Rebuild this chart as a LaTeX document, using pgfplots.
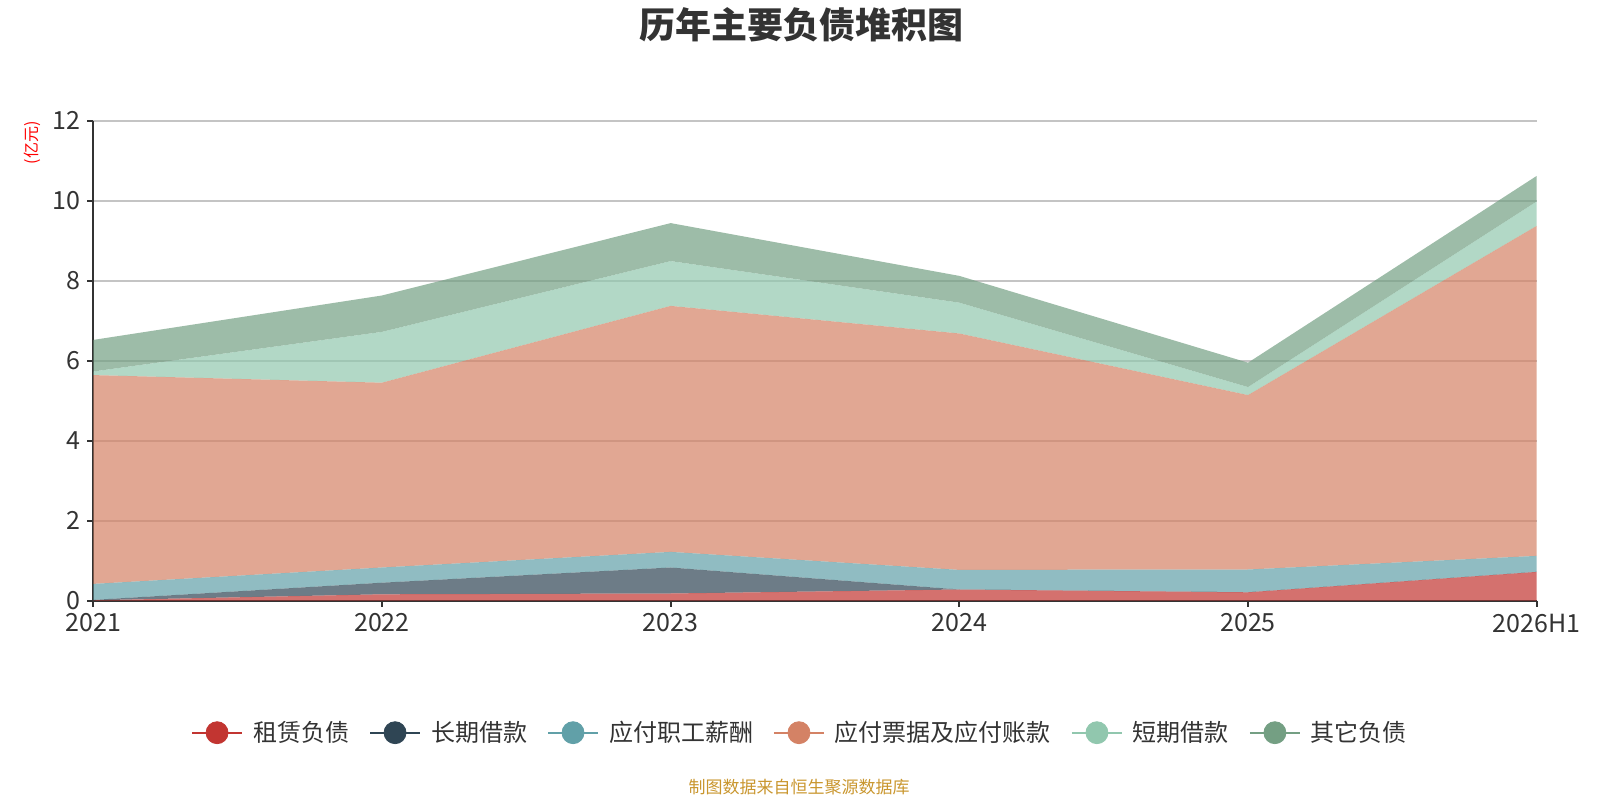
\documentclass[border=0pt]{standalone}
\usepackage{pgfplots}
\pgfplotsset{compat=1.18}
\usepackage{fontspec}
\setmainfont{Noto Sans CJK SC}
\definecolor{c1}{HTML}{C23531}
\definecolor{c2}{HTML}{2F4554}
\definecolor{c3}{HTML}{61A0A8}
\definecolor{c4}{HTML}{D48265}
\definecolor{c5}{HTML}{91C7AE}
\definecolor{c6}{HTML}{749F83}
\definecolor{txt}{HTML}{333333}
\definecolor{gridc}{HTML}{C4C4C4}
\definecolor{foot}{HTML}{C9962E}
\begin{document}
\begin{tikzpicture}
\path[use as bounding box] (0bp,0bp) rectangle (800bp,400bp);
\begin{axis}[
  at={(46.65bp,99.65bp)}, anchor=south west,
  scale only axis, width=721.7bp, height=240bp,
  xmin=0, xmax=5, ymin=0, ymax=12,
  xtick={0,1,2,3,4,5},
  xticklabels={2021,2022,2023,2024,2025,2026H1},
  ytick={0,2,4,6,8,10,12},
  axis lines=left,
  axis line style={-, color=txt, line width=1bp},
  tick align=outside, major tick length=3bp,
  tick style={color=txt, line width=1bp},
  ymajorgrids, grid style={color=gridc, line width=0.9bp},
  stack plots=y,
  ticklabel style={font=\fontsize{12.5bp}{14bp}\selectfont, text=txt},
  /pgf/number format/assume math mode=true,
  legend image code/.code={
    \draw[line width=1bp] (0bp,0bp) -- (25bp,0bp);
    \fill (12.5bp,0bp) circle (5.5bp);
  },
  legend columns=6,
  legend style={at={(0.4903,-0.275)}, anchor=center, draw=none, fill=none,
    font=\fontsize{12bp}{14bp}\selectfont, text=txt,
    /tikz/every odd column/.append style={column sep=3bp},
    /tikz/every even column/.append style={column sep=8bp}},
]
\addplot[fill=c1, fill opacity=0.7, draw=none, forget plot] coordinates {(0,0.01) (1,0.16) (2,0.18) (3,0.28) (4,0.21) (5,0.72)} \closedcycle;
\addplot[fill=c2, fill opacity=0.7, draw=none, forget plot] coordinates {(0,0.01) (1,0.29) (2,0.65) (3,0) (4,0) (5,0)} \closedcycle;
\addplot[fill=c3, fill opacity=0.7, draw=none, forget plot] coordinates {(0,0.40) (1,0.38) (2,0.39) (3,0.49) (4,0.57) (5,0.40)} \closedcycle;
\addplot[fill=c4, fill opacity=0.7, draw=none, forget plot] coordinates {(0,5.22) (1,4.62) (2,6.15) (3,5.91) (4,4.36) (5,8.25)} \closedcycle;
\addplot[fill=c5, fill opacity=0.7, draw=none, forget plot] coordinates {(0,0.09) (1,1.27) (2,1.12) (3,0.77) (4,0.20) (5,0.61)} \closedcycle;
\addplot[fill=c6, fill opacity=0.7, draw=none, forget plot] coordinates {(0,0.79) (1,0.91) (2,0.95) (3,0.67) (4,0.61) (5,0.64)} \closedcycle;
\addlegendimage{color=c1}
\addlegendimage{color=c2}
\addlegendimage{color=c3}
\addlegendimage{color=c4}
\addlegendimage{color=c5}
\addlegendimage{color=c6}
\legend{租赁负债,长期借款,应付职工薪酬,应付票据及应付账款,短期借款,其它负债}
\end{axis}
\node[font=\fontsize{18bp}{20bp}\selectfont\bfseries, text=txt] at (400.5bp,387.5bp) {历年主要负债堆积图};
\node[font=\fontsize{8bp}{9bp}\selectfont, text=red, rotate=90] at (16.3bp,328.5bp) {(亿元)};
\node[font=\fontsize{8.5bp}{10bp}\selectfont, text=foot] at (399.5bp,6.5bp) {制图数据来自恒生聚源数据库};
\end{tikzpicture}
\end{document}
